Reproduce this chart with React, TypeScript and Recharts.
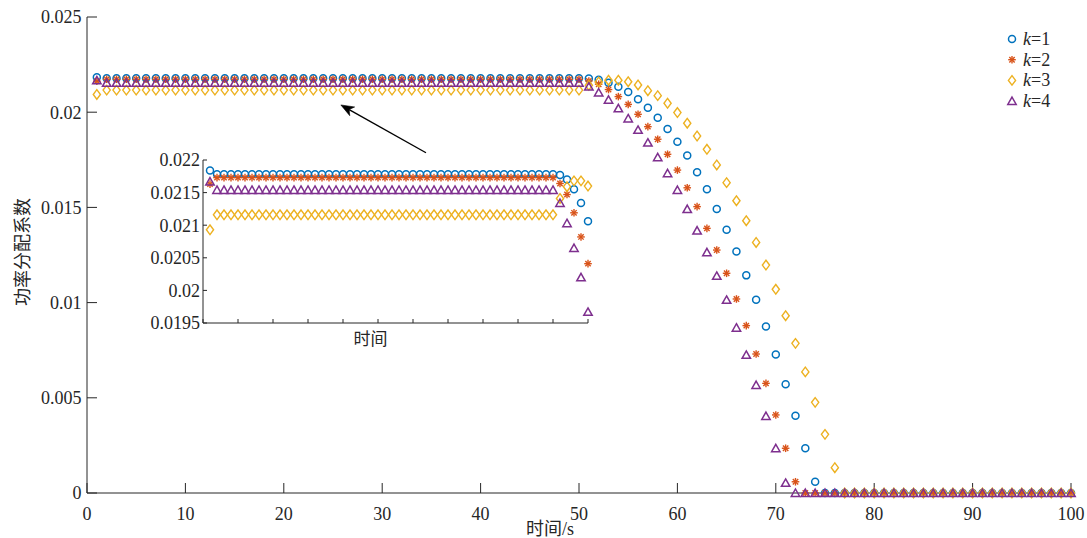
import React from 'react';
import { ScatterChart, Scatter, XAxis, YAxis, ReferenceLine, Legend } from 'recharts';

// ---------------- data ----------------
const time = [
  1, 2, 3, 4, 5, 6, 7, 8, 9, 10,
  11, 12, 13, 14, 15, 16, 17, 18, 19, 20,
  21, 22, 23, 24, 25, 26, 27, 28, 29, 30,
  31, 32, 33, 34, 35, 36, 37, 38, 39, 40,
  41, 42, 43, 44, 45, 46, 47, 48, 49, 50,
  51, 52, 53, 54, 55, 56, 57, 58, 59, 60,
  61, 62, 63, 64, 65, 66, 67, 68, 69, 70,
  71, 72, 73, 74, 75, 76, 77, 78, 79, 80,
  81, 82, 83, 84, 85, 86, 87, 88, 89, 90,
  91, 92, 93, 94, 95, 96, 97, 98, 99, 100,
];

const k1 = [
  0.02184, 0.02178, 0.02178, 0.02178, 0.02178, 0.02178, 0.02178, 0.02178, 0.02178, 0.02178,
  0.02178, 0.02178, 0.02178, 0.02178, 0.02178, 0.02178, 0.02178, 0.02178, 0.02178, 0.02178,
  0.02178, 0.02178, 0.02178, 0.02178, 0.02178, 0.02178, 0.02178, 0.02178, 0.02178, 0.02178,
  0.02178, 0.02178, 0.02178, 0.02178, 0.02178, 0.02178, 0.02178, 0.02178, 0.02178, 0.02178,
  0.02178, 0.02178, 0.02178, 0.02178, 0.02178, 0.02178, 0.02178, 0.02178, 0.02178, 0.02178,
  0.02177, 0.0217, 0.02155, 0.02134, 0.02106, 0.02068, 0.02024, 0.01971, 0.01912, 0.01845,
  0.01772, 0.01684, 0.01595, 0.01492, 0.01383, 0.01268, 0.01143, 0.01015, 0.00875, 0.00728,
  0.00571, 0.00406, 0.00235, 0.00059, 0, 0, 0, 0, 0, 0,
  0, 0, 0, 0, 0, 0, 0, 0, 0, 0,
  0, 0, 0, 0, 0, 0, 0, 0, 0, 0,
];

const k2 = [
  0.02163, 0.02173, 0.02173, 0.02173, 0.02173, 0.02173, 0.02173, 0.02173, 0.02173, 0.02173,
  0.02173, 0.02173, 0.02173, 0.02173, 0.02173, 0.02173, 0.02173, 0.02173, 0.02173, 0.02173,
  0.02173, 0.02173, 0.02173, 0.02173, 0.02173, 0.02173, 0.02173, 0.02173, 0.02173, 0.02173,
  0.02173, 0.02173, 0.02173, 0.02173, 0.02173, 0.02173, 0.02173, 0.02173, 0.02173, 0.02173,
  0.02173, 0.02173, 0.02173, 0.02173, 0.02173, 0.02173, 0.02173, 0.02173, 0.02173, 0.02173,
  0.02164, 0.02147, 0.02119, 0.02082, 0.02041, 0.01989, 0.01924, 0.01858, 0.01779, 0.01696,
  0.01603, 0.01504, 0.0139, 0.01276, 0.01154, 0.01019, 0.00879, 0.0073, 0.00576, 0.0041,
  0.00235, 0.00059, 0, 0, 0, 0, 0, 0, 0, 0,
  0, 0, 0, 0, 0, 0, 0, 0, 0, 0,
  0, 0, 0, 0, 0, 0, 0, 0, 0, 0,
];

const k3 = [
  0.02093, 0.02116, 0.02116, 0.02116, 0.02116, 0.02116, 0.02116, 0.02116, 0.02116, 0.02116,
  0.02116, 0.02116, 0.02116, 0.02116, 0.02116, 0.02116, 0.02116, 0.02116, 0.02116, 0.02116,
  0.02116, 0.02116, 0.02116, 0.02116, 0.02116, 0.02116, 0.02116, 0.02116, 0.02116, 0.02116,
  0.02116, 0.02116, 0.02116, 0.02116, 0.02116, 0.02116, 0.02116, 0.02116, 0.02116, 0.02116,
  0.02116, 0.02116, 0.02116, 0.02116, 0.02116, 0.02116, 0.02116, 0.02116, 0.02116, 0.02116,
  0.02141, 0.02159, 0.02168, 0.02168, 0.0216, 0.02143, 0.02113, 0.02087, 0.02047, 0.01998,
  0.01942, 0.01875, 0.01805, 0.01723, 0.0163, 0.01535, 0.0143, 0.01316, 0.01197, 0.0107,
  0.00931, 0.00786, 0.00636, 0.00476, 0.00308, 0.00133, 0, 0, 0, 0,
  0, 0, 0, 0, 0, 0, 0, 0, 0, 0,
  0, 0, 0, 0, 0, 0, 0, 0, 0, 0,
];

const k4 = [
  0.02167, 0.02154, 0.02154, 0.02154, 0.02154, 0.02154, 0.02154, 0.02154, 0.02154, 0.02154,
  0.02154, 0.02154, 0.02154, 0.02154, 0.02154, 0.02154, 0.02154, 0.02154, 0.02154, 0.02154,
  0.02154, 0.02154, 0.02154, 0.02154, 0.02154, 0.02154, 0.02154, 0.02154, 0.02154, 0.02154,
  0.02154, 0.02154, 0.02154, 0.02154, 0.02154, 0.02154, 0.02154, 0.02154, 0.02154, 0.02154,
  0.02154, 0.02154, 0.02154, 0.02154, 0.02154, 0.02154, 0.02154, 0.02154, 0.02154, 0.02154,
  0.02134, 0.02103, 0.02065, 0.0202, 0.01967, 0.01907, 0.0184, 0.01763, 0.01679, 0.01591,
  0.01491, 0.01378, 0.01264, 0.0114, 0.01014, 0.00868, 0.00725, 0.00567, 0.00404, 0.00235,
  0.00053, 0, 0, 0, 0, 0, 0, 0, 0, 0,
  0, 0, 0, 0, 0, 0, 0, 0, 0, 0,
  0, 0, 0, 0, 0, 0, 0, 0, 0, 0,
];

const seriesNames = ['k=1', 'k=2', 'k=3', 'k=4'];
const seriesValues = [k1, k2, k3, k4];
const colors = ['#0072BD', '#D95319', '#EDB120', '#7E2F8E'];

const mainXTicks = [0, 10, 20, 30, 40, 50, 60, 70, 80, 90, 100];
const mainYTicks = [0, 0.005, 0.01, 0.015, 0.02, 0.025];
const insetXTicks = [0, 5, 10, 15, 20, 25, 30, 35, 40, 45, 50, 55];
const insetYTicks = [0.0195, 0.02, 0.0205, 0.021, 0.0215, 0.022];
const insetCount = 55;

const arrowTail = { x: 34.45, y: 0.01787 };
const arrowTip = { x: 25.8, y: 0.02038 };

const yLabel = '功率分配系数';
const xLabel = '时间/s';
const insetXLabel = '时间';

// ---------------- styles ----------------
const SERIF = "'Liberation Serif', 'Times New Roman', 'Noto Sans CJK SC', serif";
const AX = '#262626';

const toPoints = (vals: number[], n: number) =>
  time.slice(0, n).map((t, i) => ({ x: t, y: vals[i] }));

const Marker = ({ kind, cx, cy }: { kind: number; cx: number; cy: number }) => {
  const c = colors[kind];
  if (kind === 0) {
    return <circle cx={cx} cy={cy} r={3.5} fill="none" stroke={c} strokeWidth={1.5} />;
  }
  if (kind === 1) {
    const r = 3.8;
    const d = r * 0.7071;
    return (
      <g stroke={c} strokeWidth={1.4}>
        <line x1={cx - r} y1={cy} x2={cx + r} y2={cy} />
        <line x1={cx} y1={cy - r} x2={cx} y2={cy + r} />
        <line x1={cx - d} y1={cy - d} x2={cx + d} y2={cy + d} />
        <line x1={cx - d} y1={cy + d} x2={cx + d} y2={cy - d} />
      </g>
    );
  }
  if (kind === 2) {
    const hw = 3.6;
    const hh = 4.8;
    return (
      <polygon
        points={`${cx},${cy - hh} ${cx + hw},${cy} ${cx},${cy + hh} ${cx - hw},${cy}`}
        fill="none"
        stroke={c}
        strokeWidth={1.4}
      />
    );
  }
  const hw = 4.2;
  return (
    <polygon
      points={`${cx},${cy - 4} ${cx + hw},${cy + 3.4} ${cx - hw},${cy + 3.4}`}
      fill="none"
      stroke={c}
      strokeWidth={1.5}
      strokeLinejoin="miter"
    />
  );
};

const makeShape = (kind: number) => (p: any) => {
  if (p == null || p.cx == null || p.cy == null) return <g />;
  return <Marker kind={kind} cx={p.cx} cy={p.cy} />;
};

const ArrowShape = (p: any) => {
  const { x1, y1, x2, y2 } = p;
  if ([x1, y1, x2, y2].some((v) => v == null || Number.isNaN(v))) return <g />;
  const dx = x2 - x1;
  const dy = y2 - y1;
  const len = Math.hypot(dx, dy) || 1;
  const ux = dx / len;
  const uy = dy / len;
  const hl = 13;
  const hw = 5;
  const bx = x2 - ux * hl;
  const by = y2 - uy * hl;
  const px = -uy;
  const py = ux;
  const nx = bx + ux * 3.5;
  const ny = by + uy * 3.5;
  return (
    <g>
      <line x1={x1} y1={y1} x2={nx} y2={ny} stroke="#000" strokeWidth={1.4} />
      <polygon
        points={`${x2},${y2} ${bx + px * hw},${by + py * hw} ${nx},${ny} ${bx - px * hw},${by - py * hw}`}
        fill="#000"
        stroke="#000"
        strokeWidth={0.6}
      />
    </g>
  );
};

const LegendContent = (props: any) => {
  const payload = (props && props.payload) || [];
  return (
    <svg width={80} height={92} style={{ overflow: 'visible' }}>
      {payload.map((entry: any, i: number) => {
        const idx = seriesNames.indexOf(entry.value);
        const k = idx >= 0 ? idx : i;
        const cy = 11 + i * 20.7;
        const label = seriesNames[k];
        return (
          <g key={i}>
            <Marker kind={k} cx={12} cy={cy} />
            <text x={23} y={cy + 6} fontSize={18} fontFamily={SERIF} fill={AX}>
              <tspan fontStyle="italic">{label.slice(0, 1)}</tspan>
              <tspan>{label.slice(1)}</tspan>
            </text>
          </g>
        );
      })}
    </svg>
  );
};

const tickStyle = { fontSize: 18, fontFamily: SERIF, fill: AX };
const lineStyle = { stroke: AX, strokeWidth: 1 };

export default function App() {
  const mainData = seriesValues.map((v) => toPoints(v, time.length));
  const insetData = seriesValues.map((v) => toPoints(v, insetCount));

  return (
    <div style={{ position: 'absolute', left: 0, top: 0, width: 1087, height: 538, background: '#fff' }}>
      <ScatterChart width={1087} height={538} margin={{ top: 17, right: 16, bottom: 15, left: 7 }}>
        <XAxis
          type="number"
          dataKey="x"
          domain={[0, 100]}
          ticks={mainXTicks}
          interval={0}
          height={30}
          tickSize={-10}
          tickMargin={24}
          axisLine={lineStyle}
          tickLine={lineStyle}
          tick={tickStyle}
          label={{
            content: (lp: any) => {
              const vb = lp.viewBox || { x: 87, y: 493, width: 984, height: 30 };
              return (
                <text
                  x={vb.x + vb.width / 2 - 29}
                  y={vb.y + 42}
                  textAnchor="middle"
                  fontSize={18}
                  fontFamily={SERIF}
                  fill={AX}
                >
                  {xLabel}
                </text>
              );
            },
          }}
        />
        <YAxis
          type="number"
          dataKey="y"
          domain={[0, 0.025]}
          ticks={mainYTicks}
          interval={0}
          width={80}
          tickSize={-10}
          tickMargin={15.5}
          axisLine={lineStyle}
          tickLine={lineStyle}
          tick={tickStyle}
          label={{
            content: (lp: any) => {
              const vb = lp.viewBox || { x: 7, y: 17, width: 80, height: 476 };
              const cx = vb.x + 13.5;
              const cy = vb.y + vb.height / 2 - 3;
              return (
                <text
                  x={cx}
                  y={cy}
                  transform={`rotate(-90 ${cx} ${cy})`}
                  textAnchor="middle"
                  dominantBaseline="central"
                  fontSize={18}
                  fontFamily="'Noto Sans CJK SC', sans-serif"
                  fill={AX}
                >
                  {yLabel}
                </text>
              );
            },
          }}
        />
        <XAxis
          xAxisId="top"
          orientation="top"
          type="number"
          domain={[0, 100]}
          allowDataOverflow
          ticks={mainXTicks}
          interval={0}
          height={0}
          tickSize={-10}
          tickFormatter={() => ''}
          axisLine={lineStyle}
          tickLine={lineStyle}
        />
        <YAxis
          yAxisId="right"
          orientation="right"
          type="number"
          domain={[0, 0.025]}
          allowDataOverflow
          ticks={mainYTicks}
          interval={0}
          width={0}
          tickSize={-10}
          tickFormatter={() => ''}
          axisLine={lineStyle}
          tickLine={lineStyle}
        />
        {mainData.map((d, i) => (
          <Scatter
            key={seriesNames[i]}
            name={seriesNames[i]}
            data={d}
            fill={colors[i]}
            shape={makeShape(i)}
            isAnimationActive={false}
          />
        ))}
        <ReferenceLine
          segment={[arrowTail, arrowTip]}
          ifOverflow="visible"
          shape={ArrowShape}
        />
        <Legend
          layout="vertical"
          align="center"
          verticalAlign="middle"
          wrapperStyle={{ left: 1000, top: 28, width: 80, height: 92 }}
          content={LegendContent}
        />
      </ScatterChart>

      <div style={{ position: 'absolute', left: 120, top: 150, width: 480, height: 210 }}>
        <ScatterChart width={480} height={210} margin={{ top: 10, right: 12, bottom: 0, left: 0 }}>
          <XAxis
            type="number"
            dataKey="x"
            domain={[0, 55]}
            ticks={insetXTicks}
            interval={0}
            height={37}
            tickSize={-4}
            tickFormatter={() => ''}
            axisLine={lineStyle}
            tickLine={lineStyle}
            label={{
              content: (lp: any) => {
                const vb = lp.viewBox || { x: 83, y: 173, width: 385, height: 37 };
                return (
                  <text
                    x={vb.x + vb.width / 2 - 25}
                    y={vb.y + 22}
                    textAnchor="middle"
                    fontSize={17}
                    fontFamily="'Noto Sans CJK SC', sans-serif"
                    fill={AX}
                  >
                    {insetXLabel}
                  </text>
                );
              },
            }}
          />
          <YAxis
            type="number"
            dataKey="y"
            domain={[0.0195, 0.022]}
            ticks={insetYTicks}
            interval={0}
            width={83}
            tickSize={-4}
            tickMargin={7}
            axisLine={lineStyle}
            tickLine={lineStyle}
            tick={tickStyle}
          />
          <XAxis
            xAxisId="top"
            orientation="top"
            type="number"
            domain={[0, 55]}
            allowDataOverflow
            ticks={insetXTicks}
            interval={0}
            height={0}
            tickSize={-4}
            tickFormatter={() => ''}
            axisLine={lineStyle}
            tickLine={lineStyle}
          />
          <YAxis
            yAxisId="right"
            orientation="right"
            type="number"
            domain={[0.0195, 0.022]}
            allowDataOverflow
            ticks={insetYTicks}
            interval={0}
            width={0}
            tickSize={-4}
            tickFormatter={() => ''}
            axisLine={lineStyle}
            tickLine={lineStyle}
          />
          {insetData.map((d, i) => (
            <Scatter
              key={seriesNames[i]}
              name={seriesNames[i]}
              data={d}
              fill={colors[i]}
              shape={makeShape(i)}
              isAnimationActive={false}
            />
          ))}
        </ScatterChart>
      </div>
    </div>
  );
}
